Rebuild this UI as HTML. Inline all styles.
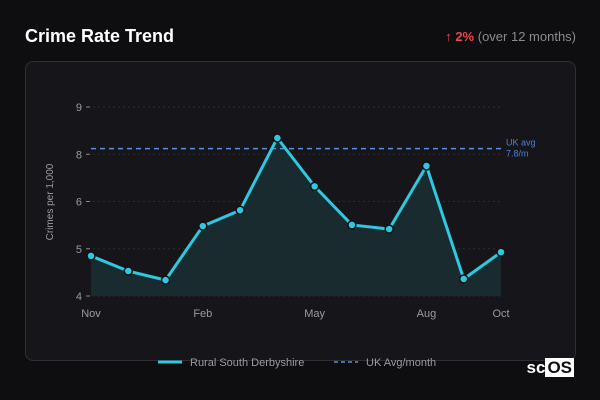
<!DOCTYPE html>
<html><head><meta charset="utf-8"><style>
body{margin:0;width:600px;height:400px;background:#0e0e11;font-family:"Liberation Sans",sans-serif;overflow:hidden;position:relative}
.title{position:absolute;left:25px;top:26px;color:#fff;font-weight:bold;font-size:18px}
.chg{position:absolute;right:24px;top:29px;font-size:13px;color:#8a8a90}
.chg b{color:#e5484d}
.card{position:absolute;left:25px;top:61px;width:549px;height:298px;border:1px solid #2e2e33;border-radius:8px;background:#16161a}
svg{position:absolute;left:0;top:0}
.logo{position:absolute;right:26px;bottom:22px;color:#fff;font-weight:bold;font-size:17px}
.logo span{background:#fff;color:#0e0e11;padding:0 2px}
</style></head><body>
<div class="title">Crime Rate Trend</div>
<div class="chg"><b>↑ 2%</b> (over 12 months)</div>
<div class="card"></div>
<svg id="c" width="600" height="400"></svg>
<div class="logo">sc<span>OS</span></div>
<script>
const months=["Nov","Dec","Jan","Feb","Mar","Apr","May","Jun","Jul","Aug","Sep","Oct"];
const values=[5.06,4.66,4.42,5.85,6.27,8.18,6.9,5.88,5.77,7.44,4.45,5.16];
const tickVals=[4,5.25,6.5,7.75,9];
const tickLabels=["4","5","6","8","9"];
const xLabelIdx=[0,3,6,9,11];
const ukAvg=[7.9];
const svg=document.getElementById('c');const NS="http://www.w3.org/2000/svg";
const x=i=>91+i*(410/(months.length-1));
const y=v=>296-(v-4)*(189/5);
function mk(t,a,p){const e=document.createElementNS(NS,t);for(const k in a)e.setAttribute(k,a[k]);(p||svg).appendChild(e);return e;}
tickVals.forEach((v,i)=>{
 const g=mk('line',{x1:93,x2:501,y1:y(v),y2:y(v),stroke:'#2c2c31','stroke-dasharray':'2,3'});
 
 mk('line',{x1:86,x2:90,y1:y(v),y2:y(v),stroke:'#888'});
 const t=mk('text',{x:82,y:y(v)+4,'text-anchor':'end',fill:'#9a9aa0','font-size':11});t.textContent=tickLabels[i];
 
});
xLabelIdx.forEach(i=>{const t=mk('text',{x:x(i),y:317,'text-anchor':'middle',fill:'#9a9aa0','font-size':11});t.textContent=months[i];
 });
const yt=mk('text',{transform:'translate(53,202) rotate(-90)','text-anchor':'middle',fill:'#9a9aa0','font-size':10});yt.textContent='Crimes per 1,000';

let pts=values.map((v,i)=>x(i)+','+y(v)).join(' ');
const area=mk('polygon',{points:pts+` ${x(values.length-1)},296 ${x(0)},296`,fill:'#1b2e33',opacity:0.9});

const ul=mk('line',{x1:91,x2:501,y1:y(ukAvg[0]),y2:y(ukAvg[0]),stroke:'#5b8ee0','stroke-width':1.5,'stroke-dasharray':'5,4'});

const ut=mk('text',{x:506,y:y(ukAvg[0])-3,fill:'#4f7fd6','font-size':9});ut.innerHTML='<tspan x="506">UK avg</tspan><tspan x="506" dy="11">7.8/m</tspan>';

const ln=mk('polyline',{points:pts,fill:'none',stroke:'#2ec8e0','stroke-width':3,'stroke-linejoin':'round'});

values.forEach((v,i)=>{const c=mk('circle',{cx:x(i),cy:y(v),r:4,fill:'#2ec8e0',stroke:'#111','stroke-width':1.5});
 });
const l1=mk('line',{x1:158,x2:182,y1:362,y2:362,stroke:'#2ec8e0','stroke-width':3});

const t1=mk('text',{x:190,y:366,fill:'#9a9aa0','font-size':11});t1.textContent='Rural South Derbyshire';

const l2=mk('line',{x1:334,x2:358,y1:362,y2:362,stroke:'#5b8ee0','stroke-width':1.5,'stroke-dasharray':'4,3'});

const t2=mk('text',{x:366,y:366,fill:'#9a9aa0','font-size':11});t2.textContent='UK Avg/month';

</script>
</body></html>
